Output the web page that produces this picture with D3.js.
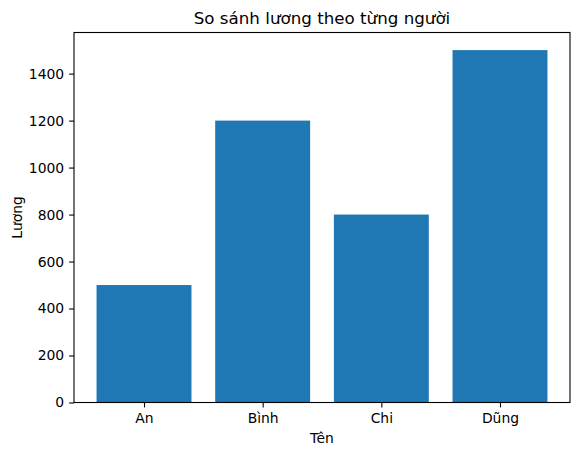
<!DOCTYPE html>
<html>
<head>
<meta charset="utf-8">
<script src="https://cdn.jsdelivr.net/npm/d3@7"></script>
<style>
  body { margin: 0; background: #fff; }
</style>
</head>
<body>
<div class="barchart"></div>
<script>
// data
const names = ["An", "Bình", "Chi", "Dũng"];
const salaries = [500, 1200, 800, 1500];
const yTicks = [0, 200, 400, 600, 800, 1000, 1200, 1400];

const W = 580, H = 455;
const FONT = "'DejaVu Sans', 'Bitstream Vera Sans', sans-serif";
const tickFont = 13.9, titleFont = 16.7;
const margin = { top: 32.5, right: 10, bottom: 52.5, left: 74 };
const width = W - margin.left - margin.right,
      height = H - margin.top - margin.bottom;

const svg = d3.select(".barchart")
  .append("svg")
  .attr("width", W)
  .attr("height", H)
  .attr("font-family", FONT);

const g = svg.append("g")
  .attr("transform", "translate(" + margin.left + "," + margin.top + ")");

// matplotlib style: bars at integer positions, width 0.8, 5% margins
const pad = 3.8 * 0.05;
const xScale = d3.scaleLinear()
  .domain([-0.4 - pad, 3.4 + pad])
  .range([0, width]);

const yScale = d3.scaleLinear()
  .domain([0, 1500 * 1.05])
  .range([height, 0]);

g.selectAll(".bar")
  .data(salaries)
  .enter()
  .append("rect")
  .attr("class", "bar")
  .attr("x", (d, i) => xScale(i - 0.4))
  .attr("y", d => yScale(d))
  .attr("width", (d, i) => xScale(i + 0.4) - xScale(i - 0.4))
  .attr("height", d => height - yScale(d))
  .attr("fill", "#1f77b4");

const xAxis = d3.axisBottom(xScale)
  .tickValues(d3.range(names.length))
  .tickFormat(i => names[i])
  .tickSizeInner(4.9)
  .tickSizeOuter(0)
  .tickPadding(5.4);

const yAxis = d3.axisLeft(yScale)
  .tickValues(yTicks)
  .tickFormat(d3.format("d"))
  .tickSizeInner(4.9)
  .tickSizeOuter(0)
  .tickPadding(4.9);

const gx = g.append("g")
  .attr("transform", "translate(0," + height + ")")
  .call(xAxis)
  .attr("font-family", FONT)
  .attr("font-size", tickFont);
gx.select(".domain").remove();
gx.selectAll("text").attr("dy", "0.71em").attr("fill", "#000");

const gy = g.append("g").call(yAxis)
  .attr("font-family", FONT)
  .attr("font-size", tickFont);
gy.select(".domain").remove();
gy.selectAll("text").attr("fill", "#000");

g.selectAll(".tick line").attr("stroke", "#000").attr("stroke-width", 1.1);

// frame
g.append("rect")
  .attr("x", 0)
  .attr("y", 0)
  .attr("width", width)
  .attr("height", height)
  .attr("fill", "none")
  .attr("stroke", "#000")
  .attr("stroke-width", 1.1);

// title + axis labels
svg.append("text")
  .attr("x", margin.left + width / 2)
  .attr("y", 24.2)
  .attr("text-anchor", "middle")
  .attr("font-size", titleFont)
  .text("So sánh lương theo từng người");

svg.append("text")
  .attr("x", margin.left + width / 2)
  .attr("y", 443)
  .attr("text-anchor", "middle")
  .attr("font-size", tickFont)
  .text("Tên");

svg.append("text")
  .attr("transform", "translate(22," + (margin.top + height / 2) + ") rotate(-90)")
  .attr("text-anchor", "middle")
  .attr("font-size", tickFont)
  .text("Lương");
</script>
</body>
</html>
